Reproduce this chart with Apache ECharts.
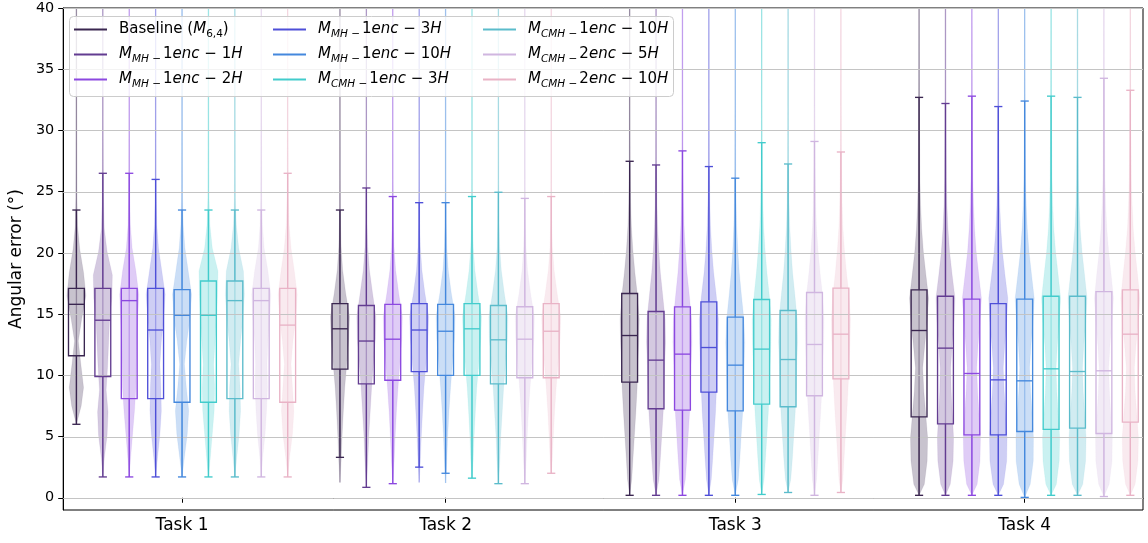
<!DOCTYPE html>
<html>
<head>
<meta charset="utf-8">
<script src="https://cdn.jsdelivr.net/npm/echarts@6/dist/echarts.min.js"></script>
<style>
html,body{margin:0;padding:0;background:#fff;}
#chart{width:1148px;height:543px;}
</style>
</head>
<body>
<div id="chart"></div>
<script>
// ---------------- DATA ----------------
const tasks = ['Task 1', 'Task 2', 'Task 3', 'Task 4'];
const taskCenters = [4.5, 14.48, 25.45, 36.41];
const models = ['Baseline (M6,4)', 'M_MH-1enc-1H', 'M_MH-1enc-2H', 'M_MH-1enc-3H', 'M_MH-1enc-10H',
  'M_CMH-1enc-3H', 'M_CMH-1enc-10H', 'M_CMH-2enc-5H', 'M_CMH-2enc-10H'];
const legendLabels = [
  '{r0|Baseline (}{mi|M}{sd|6,4}{r|)}',
  '{mi0|M}{sb|MH −}{d|1}{mi|enc − }{d|1}{mi|H}',
  '{mi0|M}{sb|MH −}{d|1}{mi|enc − }{d|2}{mi|H}',
  '{mi0|M}{sb|MH −}{d|1}{mi|enc − }{d|3}{mi|H}',
  '{mi0|M}{sb|MH −}{d|1}{mi|enc − }{d|10}{mi|H}',
  '{mi0|M}{sb|CMH −}{d|1}{mi|enc − }{d|3}{mi|H}',
  '{mi0|M}{sb|CMH −}{d|1}{mi|enc − }{d|10}{mi|H}',
  '{mi0|M}{sb|CMH −}{d|2}{mi|enc − }{d|5}{mi|H}',
  '{mi0|M}{sb|CMH −}{d|2}{mi|enc − }{d|10}{mi|H}'
];
const colors = ['#3a2650', '#633c91', '#8c48e0', '#4e4fd8', '#4488dd', '#42cccc', '#5bbccb', '#d0b6e0', '#e9b3c6'];
const yTicks = [0, 5, 10, 15, 20, 25, 30, 35, 40];

// box statistics: rows = tasks, columns = models
const whiskerLow = [
  [6.0, 1.7, 1.7, 1.7, 1.7, 1.7, 1.7, 1.7, 1.7],
  [3.3, 0.85, 1.15, 2.5, 2.0, 1.6, 1.15, 1.15, 2.0],
  [0.2, 0.2, 0.2, 0.2, 0.2, 0.27, 0.43, 0.2, 0.43],
  [0.2, 0.2, 0.2, 0.2, 0.03, 0.2, 0.2, 0.1, 0.2]
];
const quartile1 = [
  [11.6, 9.9, 8.1, 8.1, 7.8, 7.8, 8.1, 8.1, 7.8],
  [10.5, 9.3, 9.6, 10.3, 10.0, 10.0, 9.3, 9.8, 9.8],
  [9.45, 7.27, 7.16, 8.63, 7.1, 7.65, 7.43, 8.33, 9.71],
  [6.61, 6.04, 5.14, 5.14, 5.41, 5.58, 5.69, 5.25, 6.18]
];
const medians = [
  [15.8, 14.5, 16.1, 13.7, 14.9, 14.9, 16.1, 16.1, 14.1],
  [13.8, 12.8, 12.95, 13.7, 13.6, 13.8, 12.9, 12.95, 13.6],
  [13.25, 11.24, 11.73, 12.27, 10.83, 12.14, 11.29, 12.52, 13.36],
  [13.66, 12.22, 10.15, 9.63, 9.55, 10.53, 10.31, 10.37, 13.36]
];
const quartile3 = [
  [17.1, 17.1, 17.1, 17.1, 17.0, 17.7, 17.7, 17.1, 17.1],
  [15.85, 15.7, 15.8, 15.85, 15.8, 15.85, 15.7, 15.6, 15.85],
  [16.68, 15.21, 15.59, 16.0, 14.75, 16.19, 15.29, 16.76, 17.12],
  [16.98, 16.46, 16.22, 15.86, 16.22, 16.46, 16.46, 16.84, 16.98]
];
const whiskerHigh = [
  [23.5, 26.5, 26.5, 26.0, 23.5, 23.5, 23.5, 23.5, 26.5],
  [23.5, 25.3, 24.6, 24.1, 24.1, 24.6, 24.95, 24.45, 24.6],
  [27.48, 27.18, 28.33, 27.05, 26.1, 29.0, 27.26, 29.1, 28.24],
  [32.7, 32.2, 32.8, 31.95, 32.4, 32.8, 32.7, 34.26, 33.28]
];

// violin outlines: [angle, relative half-width]
const violinsTask1 = [
  [[6,0],[7.5,0.5],[9,0.75],[11,0.45],[12.8,0.2],[14.6,0.55],[16.5,1],[18.4,0.75],[20.3,0.35],[22.2,0.12],[24.5,0.05],[30,0.03],[40,0.02],[48,0]],
  [[1.7,0],[3.2,0.15],[5.1,0.45],[7,0.55],[8.8,0.35],[10.7,0.5],[12.5,0.6],[14.4,0.7],[16.3,0.95],[18.2,1],[20.1,0.45],[22,0.15],[24.5,0.06],[30,0.03],[40,0.02],[48,0]],
  [[1.7,0],[3.3,0.15],[5.2,0.35],[7.1,0.55],[9,0.7],[10.9,0.75],[12.8,0.8],[14.7,0.9],[16.6,1],[18.5,0.7],[20.4,0.3],[22.3,0.12],[24.5,0.05],[30,0.03],[40,0.02],[48,0]],
  [[1.7,0],[3.3,0.2],[5.2,0.45],[7.1,0.6],[9,0.55],[10.9,0.45],[12.8,0.6],[14.7,0.85],[16.6,1],[18.5,0.65],[20.4,0.3],[22.3,0.12],[24.5,0.05],[30,0.03],[40,0.02],[48,0]],
  [[1.7,0],[3.3,0.25],[5.2,0.55],[7.1,0.7],[9,0.45],[10.9,0.25],[12.8,0.5],[14.7,0.85],[16.6,1],[18.5,0.65],[20.4,0.3],[22.3,0.12],[24.5,0.05],[30,0.03],[40,0.02],[48,0]],
  [[1.7,0],[3.3,0.2],[5.2,0.4],[7.1,0.6],[9,0.65],[10.9,0.55],[12.8,0.7],[14.7,0.85],[16.6,0.95],[18.5,1],[20.4,0.4],[22.3,0.15],[24.5,0.05],[30,0.03],[40,0.02],[48,0]],
  [[1.7,0],[3.3,0.2],[5.2,0.45],[7.1,0.6],[9,0.55],[10.9,0.4],[12.8,0.6],[14.7,0.85],[16.6,1],[18.5,0.9],[20.4,0.4],[22.3,0.15],[24.5,0.05],[30,0.03],[40,0.02],[48,0]],
  [[1.7,0],[3.3,0.15],[5.2,0.4],[7.1,0.55],[9,0.65],[10.9,0.6],[12.8,0.7],[14.7,0.9],[16.6,1],[18.5,0.7],[20.4,0.3],[22.3,0.12],[24.5,0.05],[30,0.03],[40,0.02],[48,0]],
  [[1.7,0],[3.3,0.2],[5.2,0.5],[7.1,0.65],[9,0.5],[10.9,0.35],[12.8,0.55],[14.7,0.85],[16.6,1],[18.5,0.7],[20.4,0.35],[22.3,0.15],[24.5,0.07],[30,0.03],[40,0.02],[48,0]]
];
const violinsTask2 = [
  [[1.25,0],[3,0.12],[5,0.22],[7,0.35],[9,0.5],[11,0.72],[13,0.92],[14.8,1],[16.7,0.6],[18.6,0.28],[20.5,0.12],[22.5,0.05],[26,0.03],[40,0.02],[48,0]],
  [[0.85,0],[3,0.15],[5,0.25],[7,0.4],[9,0.55],[11,0.75],[13,0.95],[14.8,1],[16.7,0.65],[18.6,0.32],[20.5,0.14],[22.5,0.06],[26,0.03],[40,0.02],[48,0]],
  [[1.15,0],[3,0.14],[5,0.25],[7,0.38],[9,0.55],[11,0.75],[13,0.95],[14.8,1],[16.7,0.62],[18.6,0.3],[20.5,0.13],[22.5,0.06],[26,0.03],[40,0.02],[48,0]],
  [[1.25,0],[3,0.12],[5,0.22],[7,0.35],[9,0.5],[11,0.72],[13,0.92],[14.8,1],[16.7,0.6],[18.6,0.28],[20.5,0.12],[22.5,0.05],[26,0.03],[40,0.02],[48,0]],
  [[1.2,0],[3,0.12],[5,0.22],[7,0.35],[9,0.52],[11,0.72],[13,0.93],[14.8,1],[16.7,0.6],[18.6,0.28],[20.5,0.12],[22.5,0.05],[26,0.03],[40,0.02],[48,0]],
  [[1.6,0],[3,0.12],[5,0.22],[7,0.35],[9,0.5],[11,0.72],[13,0.92],[14.8,1],[16.7,0.62],[18.6,0.3],[20.5,0.13],[22.5,0.05],[26,0.03],[40,0.02],[48,0]],
  [[1.15,0],[3,0.15],[5,0.25],[7,0.4],[9,0.55],[11,0.75],[13,0.95],[14.8,1],[16.7,0.62],[18.6,0.3],[20.5,0.13],[22.5,0.06],[26,0.03],[40,0.02],[48,0]],
  [[1.15,0],[3,0.14],[5,0.25],[7,0.38],[9,0.55],[11,0.75],[13,0.95],[14.8,1],[16.7,0.6],[18.6,0.28],[20.5,0.12],[22.5,0.05],[26,0.03],[40,0.02],[48,0]],
  [[2.0,0],[3,0.1],[5,0.22],[7,0.35],[9,0.52],[11,0.72],[13,0.93],[14.8,1],[16.7,0.62],[18.6,0.3],[20.5,0.12],[22.5,0.05],[26,0.03],[40,0.02],[48,0]]
];
const violinsTask3 = [
  [[0.2,0],[1.5,0.22],[3.2,0.35],[5.1,0.5],[7,0.65],[8.9,0.78],[10.8,0.85],[12.7,0.95],[14.6,1],[16.5,0.82],[18.4,0.55],[20.3,0.33],[22.2,0.18],[24.1,0.1],[27,0.05],[32,0.03],[40,0.02],[48,0]],
  [[0.2,0],[1.5,0.3],[3.2,0.45],[5.1,0.6],[7,0.75],[8.9,0.85],[10.8,0.9],[12.7,1],[14.6,0.95],[16.5,0.7],[18.4,0.45],[20.3,0.28],[22.2,0.16],[24.1,0.09],[27,0.05],[32,0.03],[40,0.02],[48,0]],
  [[0.2,0],[1.5,0.3],[3.2,0.45],[5.1,0.6],[7,0.75],[8.9,0.85],[10.8,0.9],[12.7,1],[14.6,0.95],[16.5,0.72],[18.4,0.47],[20.3,0.3],[22.2,0.17],[24.1,0.1],[27,0.05],[32,0.03],[40,0.02],[48,0]],
  [[0.2,0],[1.5,0.25],[3.2,0.4],[5.1,0.55],[7,0.7],[8.9,0.8],[10.8,0.88],[12.7,0.97],[14.6,1],[16.5,0.78],[18.4,0.5],[20.3,0.3],[22.2,0.17],[24.1,0.1],[27,0.05],[32,0.03],[40,0.02],[48,0]],
  [[0.2,0],[1.5,0.32],[3.2,0.48],[5.1,0.62],[7,0.78],[8.9,0.88],[10.8,0.93],[12.7,1],[14.6,0.9],[16.5,0.65],[18.4,0.42],[20.3,0.26],[22.2,0.15],[24.1,0.09],[27,0.05],[32,0.03],[40,0.02],[48,0]],
  [[0.27,0],[1.5,0.25],[3.2,0.4],[5.1,0.55],[7,0.7],[8.9,0.8],[10.8,0.88],[12.7,0.97],[14.6,1],[16.5,0.8],[18.4,0.55],[20.3,0.35],[22.2,0.2],[24.1,0.12],[27,0.06],[32,0.03],[40,0.02],[48,0]],
  [[0.43,0],[1.5,0.28],[3.2,0.45],[5.1,0.6],[7,0.75],[8.9,0.85],[10.8,0.9],[12.7,1],[14.6,0.95],[16.5,0.72],[18.4,0.47],[20.3,0.3],[22.2,0.17],[24.1,0.1],[27,0.05],[32,0.03],[40,0.02],[48,0]],
  [[0.2,0],[1.5,0.22],[3.2,0.36],[5.1,0.5],[7,0.65],[8.9,0.78],[10.8,0.86],[12.7,0.95],[14.6,1],[16.5,0.85],[18.4,0.58],[20.3,0.36],[22.2,0.2],[24.1,0.12],[27,0.06],[32,0.03],[40,0.02],[48,0]],
  [[0.43,0],[1.5,0.2],[3.2,0.33],[5.1,0.47],[7,0.62],[8.9,0.75],[10.8,0.85],[12.7,0.95],[14.6,1],[16.5,0.85],[18.4,0.58],[20.3,0.36],[22.2,0.2],[24.1,0.12],[27,0.06],[32,0.03],[40,0.02],[48,0]]
];
const violinsTask4 = [
  [[0.2,0],[1.1,0.55],[3,0.85],[4.9,0.9],[6.8,0.7],[8.7,0.5],[10.6,0.38],[12.5,0.6],[14.4,0.85],[16.3,1],[18.2,0.72],[20.1,0.45],[22,0.27],[23.9,0.16],[26,0.09],[30,0.05],[35,0.03],[40,0.02],[48,0]],
  [[0.2,0],[1.1,0.5],[3,0.8],[4.9,0.85],[6.8,0.72],[8.7,0.6],[10.6,0.55],[12.5,0.7],[14.4,0.9],[16.3,1],[18.2,0.7],[20.1,0.43],[22,0.26],[23.9,0.15],[26,0.09],[30,0.05],[35,0.03],[40,0.02],[48,0]],
  [[0.2,0],[1.1,0.55],[3,0.85],[4.9,0.9],[6.8,0.75],[8.7,0.6],[10.6,0.5],[12.5,0.65],[14.4,0.85],[16.3,1],[18.2,0.72],[20.1,0.45],[22,0.28],[23.9,0.17],[26,0.1],[30,0.05],[35,0.03],[40,0.02],[48,0]],
  [[0.2,0],[1.1,0.55],[3,0.88],[4.9,0.92],[6.8,0.78],[8.7,0.62],[10.6,0.52],[12.5,0.68],[14.4,0.88],[16.3,1],[18.2,0.7],[20.1,0.43],[22,0.26],[23.9,0.15],[26,0.09],[30,0.05],[35,0.03],[40,0.02],[48,0]],
  [[0.03,0],[1.1,0.58],[3,0.9],[4.9,0.92],[6.8,0.78],[8.7,0.62],[10.6,0.52],[12.5,0.66],[14.4,0.87],[16.3,1],[18.2,0.72],[20.1,0.45],[22,0.27],[23.9,0.16],[26,0.09],[30,0.05],[35,0.03],[40,0.02],[48,0]],
  [[0.2,0],[1.1,0.55],[3,0.85],[4.9,0.9],[6.8,0.75],[8.7,0.6],[10.6,0.52],[12.5,0.66],[14.4,0.87],[16.3,1],[18.2,0.74],[20.1,0.47],[22,0.28],[23.9,0.17],[26,0.1],[30,0.05],[35,0.03],[40,0.02],[48,0]],
  [[0.2,0],[1.1,0.55],[3,0.85],[4.9,0.9],[6.8,0.75],[8.7,0.6],[10.6,0.52],[12.5,0.66],[14.4,0.87],[16.3,1],[18.2,0.74],[20.1,0.47],[22,0.28],[23.9,0.17],[26,0.1],[30,0.05],[35,0.03],[40,0.02],[48,0]],
  [[0.1,0],[1.1,0.55],[3,0.85],[4.9,0.88],[6.8,0.72],[8.7,0.58],[10.6,0.5],[12.5,0.64],[14.4,0.85],[16.3,1],[18.2,0.76],[20.1,0.5],[22,0.3],[23.9,0.19],[26,0.11],[30,0.06],[35,0.03],[40,0.02],[48,0]],
  [[0.2,0],[1.1,0.5],[3,0.8],[4.9,0.85],[6.8,0.68],[8.7,0.5],[10.6,0.42],[12.5,0.6],[14.4,0.85],[16.3,1],[18.2,0.76],[20.1,0.5],[22,0.3],[23.9,0.19],[26,0.11],[30,0.06],[35,0.03],[40,0.02],[48,0]]
];
const violins = [violinsTask1, violinsTask2, violinsTask3, violinsTask4];

// ---------------- CHART ----------------
const FONT = 'DejaVu Sans';
const VIOLIN_HALF = 0.36;
const BOX_HALF = 0.3;
const CAP_HALF = 0.155;
const X_MAX = 40.89;

function rgba(hex, a) {
  const n = parseInt(hex.slice(1), 16);
  return 'rgba(' + ((n >> 16) & 255) + ',' + ((n >> 8) & 255) + ',' + (n & 255) + ',' + a + ')';
}

const chart = echarts.init(document.getElementById('chart'), null, { renderer: 'canvas' });

const series = [];
models.forEach(function (name, m) {
  series.push({
    type: 'custom',
    name: name,
    z: 2,
    clip: true,
    silent: true,
    itemStyle: { color: colors[m] },
    data: taskCenters.map(function (c, t) { return [c + (m - 4), t]; }),
    renderItem: function (params, api) {
      const x = api.value(0);
      const t = api.value(1);
      const prof = violins[t][m];
      const right = [], left = [];
      prof.forEach(function (k) {
        right.push(api.coord([x + k[1] * VIOLIN_HALF, k[0]]));
        left.push(api.coord([x - k[1] * VIOLIN_HALF, k[0]]));
      });
      const pts = right.concat(left.reverse());
      const lo = api.coord([x, prof[0][0]]);
      const hi = api.coord([x, prof[prof.length - 1][0]]);
      return {
        type: 'group',
        children: [
          { type: 'polygon', shape: { points: pts },
            style: { fill: rgba(colors[m], 0.28), stroke: rgba(colors[m], 0.15), lineWidth: 0.6 } },
          { type: 'line', shape: { x1: lo[0], y1: lo[1], x2: hi[0], y2: hi[1] },
            style: { stroke: rgba(colors[m], 0.38), lineWidth: 1.3 } }
        ]
      };
    }
  });
});

// grid lines
series.push({
  type: 'custom',
  name: 'grid',
  z: 3,
  silent: true,
  data: yTicks.map(function (v) { return [0, v]; }),
  renderItem: function (params, api) {
    const p0 = api.coord([0, api.value(1)]);
    const p1 = api.coord([X_MAX, api.value(1)]);
    const y = Math.round(p0[1]) + 0.5;
    return { type: 'line', shape: { x1: p0[0], y1: y, x2: p1[0], y2: y },
      style: { stroke: '#c4c4c4', lineWidth: 1 } };
  }
});

// boxes
const boxData = [];
tasks.forEach(function (tn, t) {
  models.forEach(function (mn, m) {
    boxData.push([taskCenters[t] + (m - 4), whiskerLow[t][m], quartile1[t][m], medians[t][m], quartile3[t][m], whiskerHigh[t][m], m]);
  });
});
series.push({
  type: 'custom',
  name: 'boxes',
  z: 4,
  clip: true,
  silent: true,
  data: boxData,
  renderItem: function (params, api) {
    const x = api.value(0);
    const col = colors[api.value(6)];
    const st = { stroke: col, lineWidth: 1.35, fill: null };
    const pLo = api.coord([x, api.value(1)]);
    const pQ1 = api.coord([x, api.value(2)]);
    const pMed = api.coord([x, api.value(3)]);
    const pQ3 = api.coord([x, api.value(4)]);
    const pHi = api.coord([x, api.value(5)]);
    const bl = api.coord([x - BOX_HALF, 0])[0];
    const br = api.coord([x + BOX_HALF, 0])[0];
    const cl = api.coord([x - CAP_HALF, 0])[0];
    const cr = api.coord([x + CAP_HALF, 0])[0];
    return {
      type: 'group',
      children: [
        { type: 'line', shape: { x1: pLo[0], y1: pLo[1], x2: pQ1[0], y2: pQ1[1] }, style: st },
        { type: 'line', shape: { x1: pQ3[0], y1: pQ3[1], x2: pHi[0], y2: pHi[1] }, style: st },
        { type: 'line', shape: { x1: cl, y1: pLo[1], x2: cr, y2: pLo[1] }, style: st },
        { type: 'line', shape: { x1: cl, y1: pHi[1], x2: cr, y2: pHi[1] }, style: st },
        { type: 'rect', shape: { x: bl, y: pQ3[1], width: br - bl, height: pQ1[1] - pQ3[1] }, style: st },
        { type: 'line', shape: { x1: bl, y1: pMed[1], x2: br, y2: pMed[1] }, style: st }
      ]
    };
  }
});

const richStyles = {
  r0: { fontFamily: FONT, fontSize: 15, lineHeight: 20, color: '#000', padding: [0, 0, 0, 7] },
  r: { fontFamily: FONT, fontSize: 15, lineHeight: 20, color: '#000' },
  mi0: { fontFamily: FONT, fontSize: 15, fontStyle: 'italic', lineHeight: 20, color: '#000', padding: [0, 0, 0, 7] },
  mi: { fontFamily: FONT, fontSize: 15, fontStyle: 'italic', lineHeight: 20, color: '#000' },
  d: { fontFamily: FONT, fontSize: 15, lineHeight: 20, color: '#000' },
  sb: { fontFamily: FONT, fontSize: 10.5, fontStyle: 'italic', lineHeight: 11, verticalAlign: 'bottom', color: '#000', padding: [0, 2, 0, 0] },
  sd: { fontFamily: FONT, fontSize: 10.5, lineHeight: 11, verticalAlign: 'bottom', color: '#000' }
};

function makeLegend(idxs, left) {
  return {
    orient: 'vertical',
    left: left,
    top: 22,
    padding: 0,
    itemGap: 7.5,
    itemWidth: 33,
    itemHeight: 2,
    selectedMode: false,
    z: 12,
    icon: 'rect',
    data: idxs.map(function (i) { return { name: models[i], itemStyle: { color: colors[i] } }; }),
    formatter: function (name) { return legendLabels[models.indexOf(name)]; },
    textStyle: { rich: richStyles }
  };
}

const option = {
  animation: false,
  backgroundColor: '#fff',
  textStyle: { fontFamily: FONT },
  grid: { left: 61, right: 5, top: 8, bottom: 33, show: true, borderColor: '#000', borderWidth: 1, backgroundColor: 'transparent' },
  xAxis: {
    type: 'value', min: 0, max: X_MAX,
    axisLine: { show: true, lineStyle: { color: '#000', width: 1 } },
    axisTick: { show: true, length: 5, lineStyle: { color: '#000' }, customValues: taskCenters },
    axisLabel: {
      customValues: taskCenters, margin: 7, color: '#000', fontSize: 17, fontFamily: FONT,
      formatter: function (v) {
        let best = 0;
        taskCenters.forEach(function (c, i) { if (Math.abs(c - v) < Math.abs(taskCenters[best] - v)) best = i; });
        return tasks[best];
      }
    },
    splitLine: { show: false }
  },
  yAxis: {
    type: 'value', min: -1, max: 40,
    name: 'Angular error (°)', nameLocation: 'middle', nameGap: 29,
    nameTextStyle: { color: '#000', fontSize: 17, fontFamily: FONT },
    axisLine: { show: true, lineStyle: { color: '#000', width: 1 } },
    axisTick: { show: true, length: 5, lineStyle: { color: '#000' }, customValues: yTicks },
    axisLabel: { customValues: yTicks, margin: 9, color: '#000', fontSize: 14.4, fontFamily: FONT },
    splitLine: { show: false }
  },
  legend: [
    makeLegend([0, 1, 2], 74),
    makeLegend([3, 4, 5], 273),
    makeLegend([6, 7, 8], 483)
  ],
  graphic: [
    { type: 'rect', z: 10, shape: { x: 69.5, y: 16.5, width: 604, height: 80, r: 4 },
      style: { fill: 'rgba(255,255,255,0.8)', stroke: '#cccccc', lineWidth: 1 } }
  ],
  series: series
};
chart.setOption(option);
</script>
</body>
</html>
